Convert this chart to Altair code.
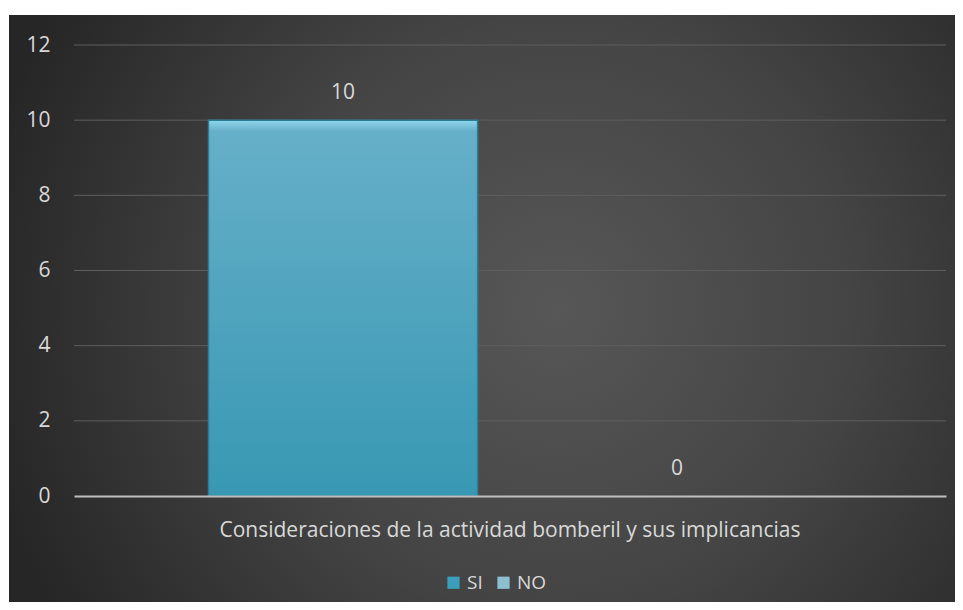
import altair as alt
import pandas as pd

categories = ["Consideraciones de la actividad bomberil y sus implicancias"]
series = ["SI", "NO"]
values = [10, 0]
y_ticks = [0, 2, 4, 6, 8, 10, 12]

df = pd.DataFrame({
    "cat": [categories[0]] * len(series),
    "serie": series,
    "valor": values,
})
grid_df = pd.DataFrame({"t": y_ticks[1:]})

W, H = 872, 451
PAD = {"left": 66, "top": 37, "right": 9, "bottom": 106}
FONT = "Open Sans"
TXT = "#d9d9d9"
FS = 21

bg = alt.Chart(pd.DataFrame({"a": [0]})).mark_rect(
    fill={
        "gradient": "radial",
        "x1": 0.58, "y1": 0.5, "r1": 0,
        "x2": 0.58, "y2": 0.5, "r2": 0.62,
        "stops": [
            {"offset": 0, "color": "#575757"},
            {"offset": 0.5, "color": "#444444"},
            {"offset": 1, "color": "#262626"},
        ],
    },
).encode(
    x=alt.value(-65), x2=alt.value(W + PAD["right"]),
    y=alt.value(-30), y2=alt.value(H + PAD["bottom"]),
)

y_scale = alt.Scale(domain=[0, 12])
y_axis = alt.Axis(values=y_ticks, labelColor=TXT, labelFontSize=FS, labelFont=FONT,
                  labelPadding=24, ticks=False, domain=False, grid=False, zindex=1)

grid = alt.Chart(grid_df).mark_rule(color="#5e5e5e", strokeWidth=1).encode(
    y=alt.Y("t:Q", title=None, scale=y_scale, axis=y_axis),
)

x_enc = alt.X("cat:N", title=None,
              scale=alt.Scale(paddingInner=0, paddingOuter=0.223),
              axis=alt.Axis(labelColor=TXT, labelFontSize=FS, labelFont=FONT,
                            labelPadding=23, ticks=False, domainColor="#bfbfbf",
                            domainWidth=2, grid=False, labelAngle=0, labelLimit=900,
                            zindex=1))
xoff = alt.XOffset("serie:N", sort=series,
                   scale=alt.Scale(paddingInner=0.194, paddingOuter=0))
y_enc = alt.Y("valor:Q", title=None, scale=y_scale, axis=y_axis)

bars = alt.Chart(df).mark_bar().encode(
    x=x_enc, xOffset=xoff, y=y_enc,
    color=alt.Color("serie:N", sort=series,
                    scale=alt.Scale(domain=series, range=["#3a9fba", "#8cc0d0"]),
                    legend=alt.Legend(title=None, orient="none", direction="horizontal",
                                      legendX=370, legendY=528, padding=0, labelColor=TXT,
                                      labelFontSize=19, labelFont=FONT, symbolType="square",
                                      symbolSize=150, symbolStrokeWidth=0,
                                      columnPadding=11, labelOffset=4)),
)

bars_grad = alt.Chart(df).transform_filter("datum.valor > 0").mark_bar(
    fill={
        "gradient": "linear", "x1": 0, "y1": 0, "x2": 0, "y2": 1,
        "stops": [
            {"offset": 0, "color": "#8fd6ec"},
            {"offset": 0.03, "color": "#66afc8"},
            {"offset": 1, "color": "#3898b3"},
        ],
    },
    stroke="#2c7e96", strokeWidth=1.5,
).encode(x=x_enc, xOffset=xoff, y=y_enc)

labels = alt.Chart(df).mark_text(
    color=TXT, fontSize=FS, font=FONT, baseline="middle", dy=-27,
).encode(x=x_enc, xOffset=xoff, y=y_enc, text=alt.Text("valor:Q"))

chart = alt.layer(bg, grid, bars, bars_grad, labels).properties(
    width=W, height=H,
    autosize=alt.AutoSizeParams(type="none"),
    padding=PAD,
    background="white",
).configure_view(stroke=None)

chart.save("out.html", embed_options={"renderer": "svg", "actions": False})
